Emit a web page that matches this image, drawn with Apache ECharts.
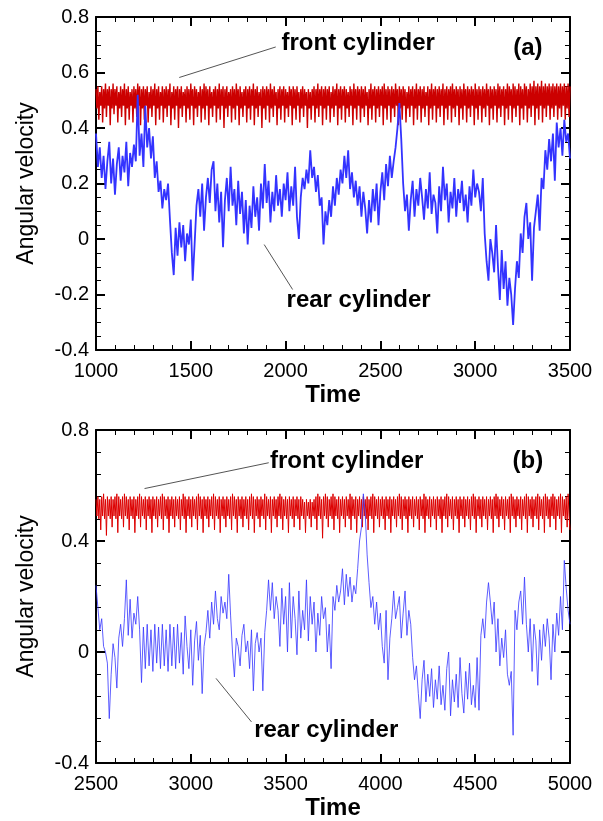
<!DOCTYPE html>
<html><head><meta charset="utf-8">
<script src="https://cdn.jsdelivr.net/npm/echarts@6/dist/echarts.min.js"></script>
<style>html,body{margin:0;padding:0;background:#fff}#c{width:603px;height:821px}</style>
</head><body><div id="c"></div><script>
// ---------- data ----------
const topStart = 1000, topEnd = 3500;
const botStart = 2500, botEnd = 5000;
const frontStep = 5, rearStep = 10;

// front cylinder (a), t = 1000..3500 every 5
const topFront = [
0.54,0.47,0.55,0.43,0.53,0.48,0.55,0.42,0.54,0.47,
0.56,0.44,0.54,0.48,0.55,0.41,0.54,0.47,0.56,0.45,
0.54,0.48,0.55,0.42,0.53,0.47,0.55,0.44,0.54,0.48,
0.56,0.41,0.54,0.47,0.55,0.43,0.53,0.48,0.54,0.42,
0.55,0.47,0.54,0.44,0.56,0.48,0.55,0.41,0.54,0.47,
0.55,0.43,0.54,0.48,0.55,0.42,0.53,0.47,0.55,0.44,
0.54,0.48,0.56,0.41,0.54,0.47,0.55,0.43,0.53,0.48,
0.55,0.42,0.54,0.47,0.55,0.44,0.54,0.48,0.56,0.41,
0.53,0.47,0.55,0.43,0.54,0.48,0.55,0.40,0.54,0.47,
0.55,0.44,0.53,0.48,0.54,0.42,0.55,0.47,0.54,0.43,
0.56,0.48,0.54,0.41,0.55,0.47,0.54,0.44,0.53,0.48,
0.55,0.42,0.54,0.47,0.56,0.43,0.55,0.48,0.54,0.41,
0.55,0.47,0.53,0.44,0.54,0.48,0.55,0.42,0.54,0.47,
0.56,0.43,0.54,0.48,0.55,0.40,0.54,0.47,0.55,0.44,
0.53,0.48,0.54,0.42,0.55,0.47,0.54,0.43,0.56,0.48,
0.54,0.41,0.55,0.47,0.53,0.44,0.54,0.48,0.55,0.42,
0.54,0.47,0.55,0.43,0.54,0.48,0.56,0.41,0.54,0.47,
0.55,0.44,0.53,0.48,0.54,0.40,0.55,0.47,0.54,0.43,
0.55,0.48,0.54,0.42,0.56,0.47,0.54,0.44,0.55,0.48,
0.53,0.41,0.54,0.47,0.55,0.43,0.54,0.48,0.55,0.42,
0.54,0.47,0.53,0.44,0.55,0.48,0.54,0.41,0.55,0.47,
0.54,0.43,0.55,0.48,0.53,0.42,0.54,0.47,0.55,0.44,
0.54,0.48,0.53,0.40,0.54,0.47,0.53,0.43,0.54,0.48,
0.55,0.42,0.54,0.47,0.56,0.44,0.54,0.48,0.55,0.41,
0.54,0.47,0.55,0.43,0.54,0.48,0.55,0.42,0.53,0.47,
0.55,0.44,0.54,0.48,0.56,0.41,0.54,0.47,0.55,0.43,
0.54,0.48,0.55,0.42,0.54,0.47,0.53,0.44,0.55,0.48,
0.54,0.41,0.56,0.47,0.54,0.43,0.55,0.48,0.54,0.42,
0.55,0.47,0.54,0.44,0.55,0.48,0.53,0.41,0.54,0.47,
0.56,0.43,0.54,0.48,0.55,0.42,0.54,0.47,0.55,0.44,
0.54,0.48,0.55,0.41,0.56,0.47,0.54,0.43,0.55,0.48,
0.54,0.42,0.55,0.47,0.54,0.44,0.56,0.48,0.54,0.41,
0.55,0.47,0.54,0.43,0.55,0.48,0.54,0.42,0.53,0.47,
0.55,0.44,0.54,0.48,0.55,0.41,0.54,0.47,0.56,0.43,
0.54,0.48,0.55,0.42,0.54,0.47,0.55,0.44,0.53,0.48,
0.55,0.41,0.54,0.47,0.56,0.43,0.54,0.48,0.55,0.42,
0.54,0.47,0.55,0.44,0.54,0.48,0.56,0.41,0.54,0.47,
0.55,0.43,0.54,0.48,0.55,0.42,0.56,0.47,0.54,0.44,
0.55,0.48,0.54,0.41,0.55,0.47,0.54,0.43,0.56,0.48,
0.54,0.42,0.55,0.47,0.54,0.44,0.55,0.48,0.54,0.41,
0.56,0.47,0.54,0.43,0.55,0.48,0.54,0.42,0.55,0.47,
0.54,0.44,0.56,0.48,0.54,0.41,0.55,0.47,0.54,0.43,
0.55,0.48,0.54,0.42,0.56,0.47,0.55,0.44,0.54,0.48,
0.55,0.41,0.54,0.47,0.56,0.43,0.55,0.48,0.54,0.42,
0.56,0.47,0.55,0.44,0.54,0.48,0.56,0.41,0.55,0.47,
0.54,0.43,0.56,0.48,0.55,0.42,0.54,0.47,0.56,0.44,
0.55,0.48,0.57,0.41,0.55,0.47,0.56,0.43,0.55,0.48,
0.57,0.42,0.55,0.47,0.56,0.44,0.55,0.48,0.56,0.43,
0.55,0.47,0.56,0.44,0.55,0.48,0.56,0.43,0.55,0.47,
0.56,0.44,0.55,0.48,0.56,0.43,0.55,0.47,0.56,0.44,
0.55];

// rear cylinder (a), t = 1000..3500 every 10
const topRear = [
0.38,0.26,0.33,0.22,0.30,0.18,0.28,0.35,0.20,0.29,
0.16,0.27,0.33,0.21,0.30,0.24,0.35,0.19,0.31,0.26,
0.34,0.28,0.52,0.30,0.38,0.26,0.48,0.33,0.40,0.29,
0.37,0.22,0.28,0.17,0.21,0.11,0.18,0.14,0.20,0.07,
-0.05,-0.13,0.04,-0.06,0.06,-0.03,0.05,-0.08,0.02,-0.02,
0.07,-0.15,-0.02,0.12,0.18,0.08,0.20,0.03,0.15,0.22,
0.13,0.25,0.28,0.10,0.20,0.06,0.17,-0.03,0.14,0.22,
0.10,0.26,0.12,0.18,0.05,0.21,0.09,0.17,0.02,0.14,
-0.02,0.12,0.04,0.19,0.08,0.15,0.03,0.20,0.11,0.27,
0.13,0.21,0.06,0.17,0.10,0.23,0.12,0.18,0.08,0.20,
0.14,0.24,0.10,0.19,0.12,0.26,0.08,0.00,0.15,0.22,
0.18,0.25,0.20,0.32,0.22,0.26,0.17,0.23,0.12,0.15,
-0.02,0.10,0.05,0.14,0.08,0.19,0.12,0.22,0.16,0.25,
0.20,0.30,0.22,0.32,0.18,0.24,0.15,0.21,0.12,0.19,
0.08,0.17,0.11,0.02,0.14,0.06,0.18,0.10,0.20,0.05,
0.17,0.24,0.14,0.27,0.19,0.30,0.22,0.28,0.33,0.40,
0.49,0.36,0.20,0.10,0.16,0.03,0.14,0.21,0.08,0.18,
0.12,0.22,0.15,0.07,0.18,0.11,0.24,0.09,0.16,0.13,
0.02,0.19,0.10,0.26,0.14,0.20,0.06,0.17,0.11,0.22,
0.08,0.18,0.13,0.21,0.10,0.16,0.06,0.19,0.12,0.25,
0.15,0.20,0.17,0.10,0.22,0.02,-0.08,-0.15,0.00,-0.05,
-0.12,0.05,-0.10,-0.22,-0.04,-0.18,-0.08,-0.24,-0.14,-0.20,
-0.31,-0.18,-0.08,-0.14,0.02,-0.05,0.08,0.13,0.00,0.06,
-0.15,0.04,0.10,0.16,0.03,0.22,0.18,0.32,0.25,0.36,
0.28,0.38,0.21,0.42,0.33,0.40,0.30,0.43,0.35,0.38,
0.29];

// front cylinder (b), t = 2500..5000 every 5
const botFront = [
0.55,0.49,0.56,0.48,0.55,0.44,0.56,0.49,0.57,0.48,
0.55,0.42,0.56,0.49,0.55,0.48,0.56,0.45,0.55,0.49,
0.56,0.48,0.57,0.43,0.56,0.49,0.55,0.48,0.56,0.45,
0.57,0.49,0.56,0.48,0.55,0.44,0.56,0.49,0.55,0.48,
0.56,0.43,0.55,0.49,0.56,0.48,0.57,0.45,0.56,0.49,
0.55,0.48,0.56,0.44,0.55,0.49,0.56,0.48,0.55,0.43,
0.56,0.49,0.55,0.48,0.56,0.45,0.55,0.49,0.56,0.48,
0.57,0.44,0.56,0.49,0.55,0.48,0.56,0.43,0.55,0.49,
0.56,0.48,0.55,0.45,0.56,0.49,0.55,0.48,0.56,0.44,
0.55,0.49,0.57,0.48,0.56,0.43,0.55,0.49,0.56,0.48,
0.55,0.45,0.56,0.49,0.55,0.48,0.56,0.44,0.57,0.49,
0.56,0.48,0.55,0.43,0.56,0.49,0.55,0.48,0.56,0.45,
0.55,0.49,0.56,0.48,0.57,0.44,0.56,0.49,0.55,0.48,
0.56,0.43,0.55,0.49,0.56,0.48,0.55,0.45,0.56,0.49,
0.55,0.48,0.56,0.44,0.57,0.49,0.56,0.48,0.55,0.43,
0.56,0.49,0.55,0.48,0.56,0.45,0.55,0.49,0.56,0.48,
0.55,0.44,0.56,0.49,0.57,0.48,0.56,0.43,0.55,0.49,
0.56,0.48,0.55,0.45,0.56,0.49,0.55,0.48,0.57,0.44,
0.56,0.49,0.55,0.48,0.56,0.43,0.55,0.49,0.56,0.48,
0.55,0.45,0.56,0.49,0.57,0.48,0.56,0.44,0.55,0.49,
0.56,0.48,0.55,0.43,0.56,0.49,0.55,0.48,0.56,0.45,
0.55,0.49,0.56,0.48,0.55,0.44,0.56,0.49,0.55,0.48,
0.54,0.43,0.55,0.49,0.54,0.48,0.55,0.45,0.54,0.49,
0.55,0.48,0.56,0.44,0.57,0.49,0.56,0.48,0.55,0.41,
0.56,0.49,0.57,0.48,0.56,0.45,0.55,0.49,0.56,0.48,
0.57,0.44,0.56,0.49,0.55,0.48,0.56,0.43,0.55,0.49,
0.56,0.48,0.55,0.45,0.56,0.49,0.55,0.48,0.57,0.44,
0.56,0.49,0.55,0.48,0.56,0.43,0.55,0.49,0.56,0.48,
0.55,0.45,0.56,0.49,0.55,0.48,0.56,0.44,0.55,0.49,
0.56,0.48,0.57,0.43,0.56,0.49,0.55,0.48,0.56,0.45,
0.55,0.49,0.56,0.48,0.55,0.44,0.56,0.49,0.55,0.48,
0.56,0.43,0.55,0.49,0.56,0.48,0.55,0.45,0.56,0.49,
0.57,0.48,0.56,0.44,0.55,0.49,0.56,0.48,0.55,0.43,
0.56,0.49,0.55,0.48,0.56,0.45,0.55,0.49,0.56,0.48,
0.55,0.44,0.56,0.49,0.55,0.48,0.57,0.43,0.56,0.49,
0.55,0.48,0.56,0.45,0.55,0.49,0.56,0.48,0.55,0.44,
0.56,0.49,0.55,0.48,0.56,0.43,0.55,0.49,0.56,0.48,
0.57,0.45,0.56,0.49,0.55,0.48,0.56,0.44,0.55,0.49,
0.56,0.48,0.55,0.43,0.56,0.49,0.55,0.48,0.56,0.45,
0.55,0.49,0.56,0.48,0.55,0.44,0.56,0.49,0.57,0.48,
0.56,0.43,0.55,0.49,0.56,0.48,0.55,0.45,0.56,0.49,
0.55,0.48,0.56,0.44,0.55,0.49,0.56,0.48,0.55,0.43,
0.56,0.49,0.57,0.48,0.56,0.45,0.55,0.49,0.56,0.48,
0.55,0.44,0.56,0.49,0.55,0.48,0.56,0.43,0.57,0.49,
0.56,0.48,0.55,0.45,0.56,0.49,0.55,0.48,0.56,0.44,
0.55,0.49,0.56,0.48,0.57,0.43,0.56,0.49,0.55,0.48,
0.56,0.45,0.55,0.49,0.56,0.48,0.57,0.44,0.56,0.49,
0.55,0.48,0.56,0.43,0.57,0.49,0.56,0.48,0.55,0.45,
0.56,0.49,0.57,0.48,0.56,0.44,0.55,0.49,0.56,0.48,
0.57,0.43,0.56,0.49,0.55,0.48,0.56,0.45,0.57,0.49,
0.44];

// rear cylinder (b), t = 2500..5000 every 10
const botRear = [
0.24,0.16,0.08,0.12,0.02,0.00,-0.04,-0.24,-0.08,0.03,
-0.02,-0.13,0.05,0.10,0.02,0.12,0.26,0.06,0.19,0.05,
0.14,0.10,0.20,0.08,-0.11,0.09,-0.06,0.10,-0.05,0.08,
-0.07,0.10,-0.04,0.09,-0.06,0.10,-0.05,0.08,-0.07,0.10,
-0.05,0.09,-0.06,0.10,-0.04,0.07,-0.08,0.13,0.02,-0.06,
0.08,-0.12,0.04,0.11,-0.03,0.06,-0.15,0.02,0.07,0.15,
0.05,0.18,0.10,0.22,0.12,0.08,0.20,0.14,0.18,0.12,
0.28,0.13,0.00,-0.09,0.05,0.02,-0.05,0.06,0.10,0.00,
0.04,-0.06,0.08,-0.14,0.03,0.07,0.00,0.05,-0.14,0.07,
0.15,0.26,0.15,0.25,0.12,0.20,0.15,0.02,0.23,0.10,
0.20,0.00,0.25,0.05,0.20,0.12,-0.01,0.22,0.05,0.15,
0.08,0.26,0.04,0.20,0.10,0.18,0.00,0.14,0.06,0.20,
0.12,0.16,0.00,0.10,-0.06,0.20,0.15,0.24,0.18,0.22,
0.30,0.17,0.28,0.20,0.27,0.18,0.24,0.21,0.30,0.40,
0.45,0.57,0.50,0.35,0.25,0.16,0.20,0.10,0.18,0.08,
0.14,0.02,-0.04,0.15,-0.10,0.05,0.12,0.22,0.12,0.16,
0.20,0.05,0.14,0.22,0.06,0.15,0.10,-0.02,-0.10,-0.05,
-0.15,-0.24,-0.10,-0.03,-0.18,-0.08,-0.16,-0.06,-0.20,-0.10,
-0.17,-0.05,-0.19,-0.12,-0.21,-0.06,0.00,-0.23,-0.10,-0.18,
-0.08,-0.20,-0.02,-0.15,-0.22,-0.07,-0.17,-0.04,-0.19,-0.12,
-0.20,-0.02,-0.21,0.06,0.12,0.05,0.18,0.25,0.18,0.10,
0.18,0.00,0.12,-0.05,0.05,-0.02,0.08,-0.08,-0.12,-0.07,
-0.30,0.15,0.08,0.18,0.22,0.10,0.27,0.10,0.00,0.12,
-0.07,0.10,0.04,-0.12,0.08,-0.03,0.10,0.02,0.12,0.05,
-0.10,0.10,0.00,0.14,0.06,0.20,0.08,0.33,0.23,0.15,
0.10];

// annotations in data coordinates: [text, x, y]
const topNotes = [["front cylinder", 2383, 0.706], ["(a)", 3278, 0.686], ["rear cylinder", 2385, -0.22]];
const topLeaders = [[[1948, 0.692], [1439, 0.582]], [[1887, -0.02], [2037, -0.182]]];
const botNotes = [["front cylinder", 3822, 0.688], ["(b)", 4778, 0.688], ["rear cylinder", 3714, -0.282]];
const botLeaders = [[[3411, 0.682], [2756, 0.589]], [[3133, -0.095], [3320, -0.252]]];

// ---------- chart ----------
const FONT = 'Liberation Sans, Arial, Helvetica, sans-serif';
const toPairs = (arr, start, step) => arr.map((v, i) => [start + i * step, v]);

function xAxes(grid, min, max) {
  const base = {
    gridIndex: grid, type: 'value', min: min, max: max, interval: 500,
    axisLine: {show: true, onZero: false, lineStyle: {color: '#000', width: 2}},
    axisTick: {show: true, inside: true, length: 9, lineStyle: {color: '#000', width: 2}},
    minorTick: {show: true, splitNumber: 5, length: 5, lineStyle: {color: '#000', width: 1}},
    splitLine: {show: false}, minorSplitLine: {show: false}
  };
  return [
    Object.assign({}, base, {
      position: 'bottom',
      axisLabel: {show: true, fontSize: 20, color: '#000', fontFamily: FONT, margin: 11,
        formatter: v => String(v)},
      name: 'Time', nameLocation: 'middle', nameGap: 33,
      nameTextStyle: {fontSize: 24, fontWeight: 'bold', color: '#000', fontFamily: FONT}
    }),
    Object.assign({}, base, {position: 'top', axisLabel: {show: false}})
  ];
}
function yAxes(grid, interval, split) {
  const base = {
    gridIndex: grid, type: 'value', min: -0.4, max: 0.8, interval: interval,
    axisLine: {show: true, onZero: false, lineStyle: {color: '#000', width: 2}},
    axisTick: {show: true, inside: true, length: 9, lineStyle: {color: '#000', width: 2}},
    minorTick: {show: true, splitNumber: split, length: 5, lineStyle: {color: '#000', width: 1}},
    splitLine: {show: false}, minorSplitLine: {show: false}
  };
  return [
    Object.assign({}, base, {
      position: 'left',
      axisLabel: {show: true, fontSize: 20, color: '#000', fontFamily: FONT, margin: 7,
        formatter: v => String(Math.round(v * 10) / 10)},
      name: 'Angular velocity', nameLocation: 'middle', nameGap: 58,
      nameTextStyle: {fontSize: 23, color: '#000', fontFamily: FONT}
    }),
    Object.assign({}, base, {position: 'right', axisLabel: {show: false}})
  ];
}

const chart = echarts.init(document.getElementById('c'), null, {renderer: 'canvas'});
const option = {
  animation: false,
  backgroundColor: '#fff',
  grid: [
    {left: 96, top: 17, width: 474, height: 333},
    {left: 96, top: 430, width: 474, height: 333}
  ],
  xAxis: [].concat(xAxes(0, topStart, topEnd), xAxes(1, botStart, botEnd)),
  yAxis: [].concat(yAxes(0, 0.2, 4), yAxes(1, 0.4, 5)),
  series: [
    {type: 'line', name: 'front cylinder', xAxisIndex: 0, yAxisIndex: 0, data: toPairs(topFront, topStart, frontStep),
     showSymbol: false, symbol: 'none', lineStyle: {color: '#cc0000', width: 1.4}},
    {type: 'line', name: 'rear cylinder', xAxisIndex: 0, yAxisIndex: 0, data: toPairs(topRear, topStart, rearStep),
     showSymbol: false, symbol: 'none', lineStyle: {color: '#3333ff', width: 1.8}},
    {type: 'line', name: 'front cylinder', xAxisIndex: 2, yAxisIndex: 2, data: toPairs(botFront, botStart, frontStep),
     showSymbol: false, symbol: 'none', lineStyle: {color: '#dd0000', width: 1}},
    {type: 'line', name: 'rear cylinder', xAxisIndex: 2, yAxisIndex: 2, data: toPairs(botRear, botStart, rearStep),
     showSymbol: false, symbol: 'none', lineStyle: {color: '#3535ff', width: 0.8}}
  ]
};
chart.setOption(option);

function notesGraphics(gridIndex, notes, leaders) {
  const g = [];
  leaders.forEach(l => {
    const a = chart.convertToPixel({gridIndex: gridIndex}, l[0]);
    const b = chart.convertToPixel({gridIndex: gridIndex}, l[1]);
    g.push({type: 'line', shape: {x1: a[0], y1: a[1], x2: b[0], y2: b[1]},
      style: {stroke: '#555', lineWidth: 1}, z: 10});
  });
  notes.forEach(n => {
    const p = chart.convertToPixel({gridIndex: gridIndex}, [n[1], n[2]]);
    g.push({type: 'text', x: p[0], y: p[1], z: 11,
      style: {text: n[0], fill: '#000', font: 'bold 24px ' + FONT, textAlign: 'center', textVerticalAlign: 'middle'}});
  });
  return g;
}
chart.setOption({graphic: [].concat(notesGraphics(0, topNotes, topLeaders), notesGraphics(1, botNotes, botLeaders))});
</script></body></html>
